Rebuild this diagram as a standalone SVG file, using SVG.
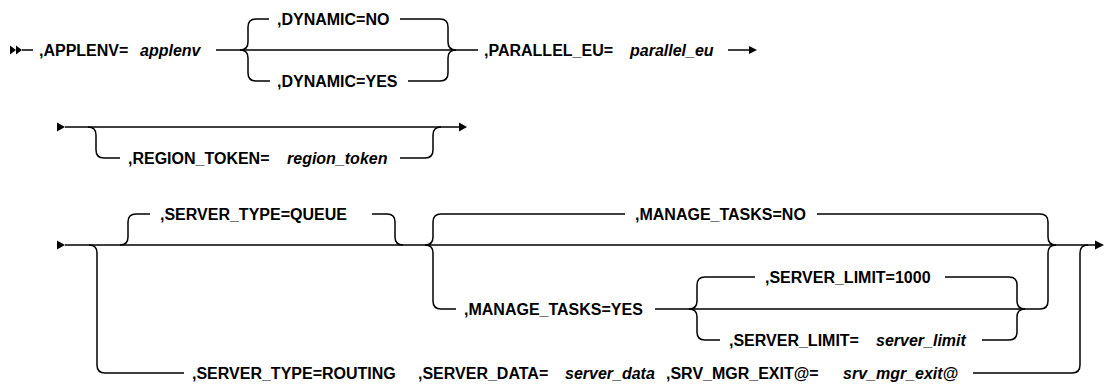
<svg xmlns="http://www.w3.org/2000/svg" width="1105" height="390" viewBox="0 0 1105 390">
<style>
.l{fill:none;stroke:#000;stroke-width:1.5}
.h{fill:#000;stroke:none}
text{font-family:"Liberation Sans",Arial,sans-serif;font-size:16px;font-weight:bold;fill:#000}
.v{font-style:italic}
</style>
<rect width="1105" height="390" fill="#fff"/>
<g id="connectors">
<polygon class="h" points="10,45.5 16,50 10,54.5"/>
<polygon class="h" points="16,45.5 22,50 16,54.5"/>
<path class="l" d="M22,50H33"/>
<path class="l" d="M216,50H478"/>
<path class="l" d="M240,50Q248,50 248,42V27Q248,19 256,19H269"/>
<path class="l" d="M400,19H440Q448,19 448,27V42Q448,50 456,50"/>
<path class="l" d="M240,50Q248,50 248,58V73Q248,81 256,81H270"/>
<path class="l" d="M408,81H440Q448,81 448,73V58Q448,50 456,50"/>
<path class="l" d="M728,50H750"/>
<polygon class="h" points="749,46 757,50 749,54"/>
<polygon class="h" points="57,122.5 65,127 57,131.5"/>
<path class="l" d="M65,127H459"/>
<polygon class="h" points="459,122.5 467,127 459,131.5"/>
<path class="l" d="M88,127Q96,127 96,135V150Q96,158 104,158H120"/>
<path class="l" d="M400,158H425Q433,158 433,150V135Q433,127 441,127"/>
<polygon class="h" points="57,240.5 65,245 57,249.5"/>
<path class="l" d="M65,245H1095"/>
<polygon class="h" points="1095,240.5 1104,245 1095,249.5"/>
<path class="l" d="M120,245Q128,245 128,237V222Q128,214 136,214H150"/>
<path class="l" d="M372,214H387Q395,214 395,222V237Q395,245 403,245"/>
<path class="l" d="M425,245Q433,245 433,237V222Q433,214 441,214H625"/>
<path class="l" d="M817,214H1040Q1048,214 1048,222V237Q1048,245 1056,245"/>
<path class="l" d="M425,245Q433,245 433,253V301Q433,309 441,309H456"/>
<path class="l" d="M655,309H1040Q1048,309 1048,301V253Q1048,245 1056,245"/>
<path class="l" d="M689,309Q697,309 697,301V285Q697,277 705,277H755"/>
<path class="l" d="M945,277H1009Q1017,277 1017,285V301Q1017,309 1025,309"/>
<path class="l" d="M689,309Q697,309 697,317V332Q697,340 705,340H720"/>
<path class="l" d="M982,340H1009Q1017,340 1017,332V317Q1017,309 1025,309"/>
<path class="l" d="M89,245Q97,245 97,253V365Q97,373 105,373H184"/>
<path class="l" d="M973,373H1072Q1080,373 1080,365V253Q1080,245 1088,245"/>
</g>
<g id="n-applenv"><text x="39" y="55.5">,APPLENV=</text><text class="v" x="140" y="55.5">applenv</text></g>
<g id="n-dynno"><text x="277" y="24.5">,DYNAMIC=NO</text></g>
<g id="n-dynyes"><text x="277" y="86.5">,DYNAMIC=YES</text></g>
<g id="n-parallel"><text x="484" y="55.5">,PARALLEL_EU=</text><text class="v" x="630" y="55.5">parallel_eu</text></g>
<g id="n-region"><text x="128" y="163.5">,REGION_TOKEN=</text><text class="v" x="287" y="163.5">region_token</text></g>
<g id="n-queue"><text x="160" y="219.5">,SERVER_TYPE=QUEUE</text></g>
<g id="n-mtno"><text x="635" y="219.5">,MANAGE_TASKS=NO</text></g>
<g id="n-mtyes"><text x="464" y="314.5">,MANAGE_TASKS=YES</text></g>
<g id="n-sl1000"><text x="765" y="282.5">,SERVER_LIMIT=1000</text></g>
<g id="n-slvar"><text x="729" y="345.5">,SERVER_LIMIT=</text><text class="v" x="876" y="345.5">server_limit</text></g>
<g id="n-routing"><text x="192" y="378.5">,SERVER_TYPE=ROUTING</text></g>
<g id="n-sdata"><text x="418" y="378.5">,SERVER_DATA=</text><text class="v" x="565" y="378.5">server_data</text></g>
<g id="n-srvmgr"><text x="666" y="378.5">,SRV_MGR_EXIT@=</text><text class="v" x="843" y="378.5">srv_mgr_exit@</text></g>
</svg>
